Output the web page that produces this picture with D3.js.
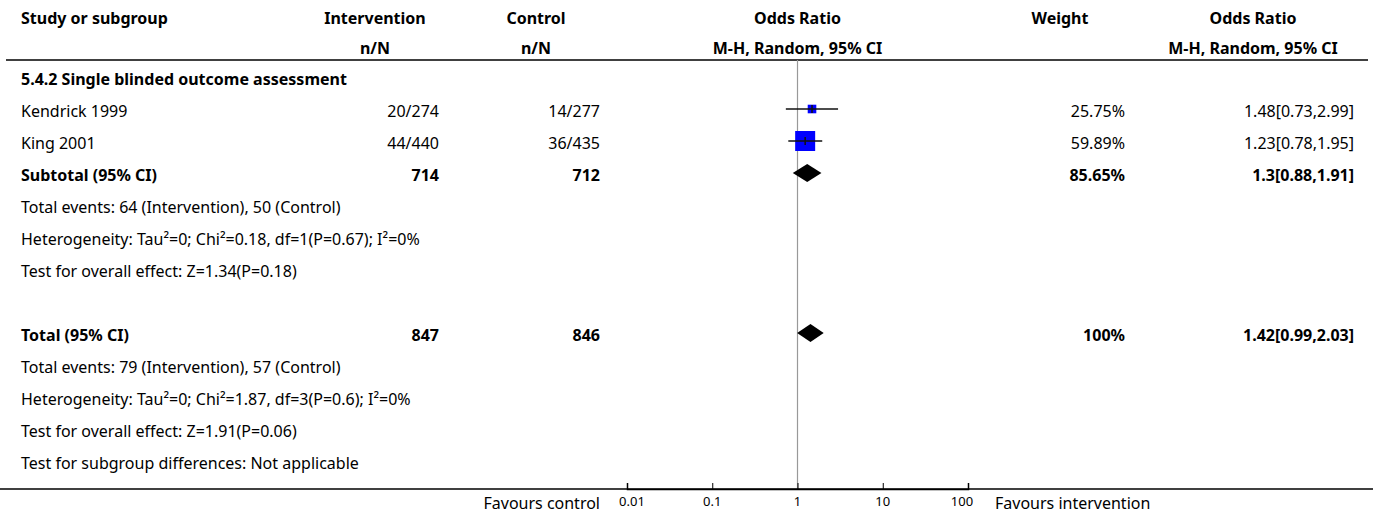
<!DOCTYPE html>
<html>
<head>
<meta charset="utf-8">
<script src="https://cdn.jsdelivr.net/npm/d3@7.9.0/dist/d3.min.js"></script>
<style>
  body { margin: 0; background: #fff; }
  svg { display: block; font-family: "Noto Sans", sans-serif; }
  text { fill: #000; }
  .bold { font-weight: bold; }
</style>
</head>
<body>
<div id="chart"></div>
<script>
// study rows
const studies = ["Kendrick 1999", "King 2001"];
const interventionN = ["20/274", "44/440"];
const controlN = ["14/277", "36/435"];
const oddsRatio = [1.48, 1.23];
const ciLow = [0.73, 0.78];
const ciHigh = [2.99, 1.95];
const weights = [25.75, 59.89];

// pooled rows
const pooledLabels = ["Subtotal (95% CI)", "Total (95% CI)"];
const pooledInt = [714, 847];
const pooledCtl = [712, 846];
const pooledOR = [1.3, 1.42];
const pooledLow = [0.88, 0.99];
const pooledHigh = [1.91, 2.03];
const pooledWeight = ["85.65%", "100%"];
const pooledText = ["1.3[0.88,1.91]", "1.42[0.99,2.03]"];

const subgroupTitle = "5.4.2 Single blinded outcome assessment";
const subgroupNotes = [
  "Total events: 64 (Intervention), 50 (Control)",
  "Heterogeneity: Tau\u00b2=0; Chi\u00b2=0.18, df=1(P=0.67); I\u00b2=0%",
  "Test for overall effect: Z=1.34(P=0.18)",
];
const totalNotes = [
  "Total events: 79 (Intervention), 57 (Control)",
  "Heterogeneity: Tau\u00b2=0; Chi\u00b2=1.87, df=3(P=0.6); I\u00b2=0%",
  "Test for overall effect: Z=1.91(P=0.06)",
  "Test for subgroup differences: Not applicable",
];

const axisTicks = [0.01, 0.1, 1, 10, 100];
const leftLabel = "Favours control";
const rightLabel = "Favours intervention";

const width = 1375;
const height = 513;
const fs = 16;

const svg = d3.select("#chart").append("svg")
  .attr("width", width).attr("height", height);

// column positions
const col = { study: 21, intR: 439, intC: 375, ctlR: 600, ctlC: 536, plotC: 797.5, wR: 1125, wC: 1060, orR: 1354, orC: 1253 };

const x = d3.scaleLog().domain([0.01, 100]).range([627, 968]);
// row index -> text baseline
const rowY = d3.scaleLinear().domain([0, 1]).range([85, 117]);
const markOffset = -8;

const sideScale = d3.scaleLinear().domain([0, 59.89]).range([0, 20]);

function txt(xp, yp, s, anchor, bold, size) {
  return svg.append("text")
    .attr("x", xp).attr("y", yp)
    .attr("text-anchor", anchor || "start")
    .attr("class", bold ? "bold" : null)
    .style("font-size", (size || fs) + "px")
    .text(s);
}

// header
txt(col.study, 23.5, "Study or subgroup", "start", true);
txt(col.intC, 23.5, "Intervention", "middle", true);
txt(col.ctlC, 23.5, "Control", "middle", true);
txt(col.plotC, 23.5, "Odds Ratio", "middle", true);
txt(col.wC, 23.5, "Weight", "middle", true);
txt(col.orC, 23.5, "Odds Ratio", "middle", true);
txt(col.intC, 54, "n/N", "middle", true);
txt(col.ctlC, 54, "n/N", "middle", true);
txt(col.plotC, 54, "M-H, Random, 95% CI", "middle", true);
txt(col.orC, 54, "M-H, Random, 95% CI", "middle", true);

svg.append("line").attr("x1", 6).attr("x2", 1368).attr("y1", 60).attr("y2", 60)
  .attr("stroke", "#000").attr("stroke-width", 1.5);

// reference line at OR = 1
svg.append("line").attr("x1", x(1)).attr("x2", x(1)).attr("y1", 60).attr("y2", 489)
  .attr("stroke", "#999").attr("stroke-width", 1.2);

// subgroup title
txt(col.study, rowY(0), subgroupTitle, "start", true);

// studies
studies.forEach((s, i) => {
  const y = rowY(1 + i);
  const my = y + markOffset;
  txt(col.study, y, s);
  txt(col.intR, y, interventionN[i], "end");
  txt(col.ctlR, y, controlN[i], "end");
  txt(col.wR, y, weights[i].toFixed(2) + "%", "end");
  txt(col.orR, y, `${oddsRatio[i]}[${ciLow[i]},${ciHigh[i]}]`, "end");

  const side = sideScale(weights[i]);
  svg.append("rect")
    .attr("x", x(oddsRatio[i]) - side / 2).attr("y", my - side / 2)
    .attr("width", side).attr("height", side)
    .attr("fill", "#0000ff");
  svg.append("line")
    .attr("x1", x(ciLow[i])).attr("x2", x(ciHigh[i]))
    .attr("y1", my).attr("y2", my)
    .attr("stroke", "#111").attr("stroke-width", 1.5);
  svg.append("line")
    .attr("x1", x(oddsRatio[i])).attr("x2", x(oddsRatio[i]))
    .attr("y1", my - 4).attr("y2", my + 4)
    .attr("stroke", "#111").attr("stroke-width", 1.5);
});

// pooled rows
const pooledRows = [3, 8];
pooledRows.forEach((r, i) => {
  const y = rowY(r);
  const my = y + markOffset;
  txt(col.study, y, pooledLabels[i], "start", true);
  txt(col.intR, y, pooledInt[i], "end", true);
  txt(col.ctlR, y, pooledCtl[i], "end", true);
  txt(col.wR, y, pooledWeight[i], "end", true);
  txt(col.orR, y, pooledText[i], "end", true);

  const h = 9;
  const pts = [
    [x(pooledLow[i]), my],
    [x(pooledOR[i]), my - h],
    [x(pooledHigh[i]), my],
    [x(pooledOR[i]), my + h],
  ];
  svg.append("path").attr("d", d3.line()(pts) + "Z").attr("fill", "#000");
});

subgroupNotes.forEach((s, i) => txt(col.study, rowY(4 + i), s));
totalNotes.forEach((s, i) => txt(col.study, rowY(9 + i), s));

// bottom rule and axis
svg.append("line").attr("x1", 0).attr("x2", 1373).attr("y1", 489).attr("y2", 489)
  .attr("stroke", "#000").attr("stroke-width", 1.5);

const axis = svg.append("g").attr("transform", "translate(0,489)")
  .call(d3.axisTop(x).tickValues(axisTicks).tickSize(6).tickFormat(""));
axis.select(".domain").attr("stroke-width", 1.5);
axis.selectAll(".tick line").attr("stroke-width", 1);

// tick labels drawn at the svg level so they take the page font
axisTicks.forEach((d, i) => {
  const dx = i === 0 ? 5 : i === axisTicks.length - 1 ? -6 : 0;
  txt(x(d) + dx, 506, d3.format("~g")(d), "middle", false, 13);
});

txt(600, 509, leftLabel, "end", false, fs);
txt(995, 509, rightLabel, "start", false, fs);
</script>
</body>
</html>
